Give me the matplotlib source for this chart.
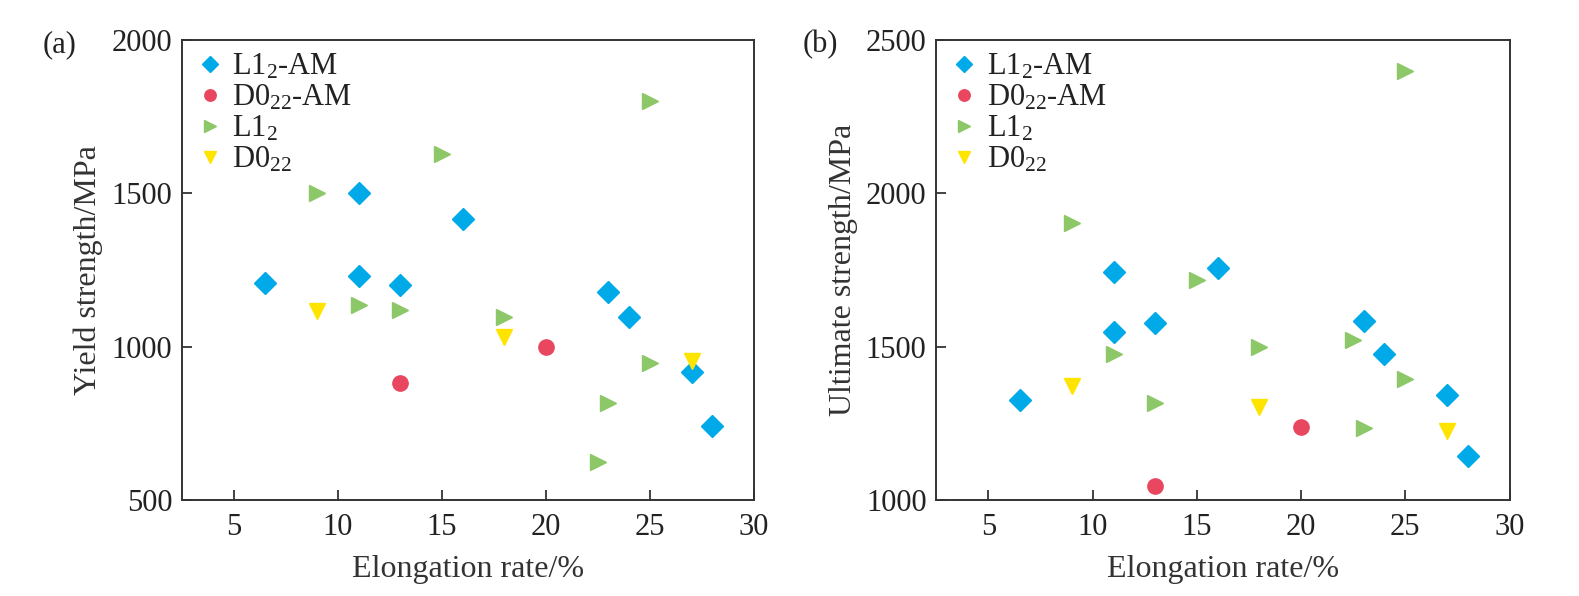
import matplotlib
matplotlib.use("Agg")
import matplotlib.pyplot as plt

plt.rcParams['font.family'] = ['Liberation Serif', 'DejaVu Serif']
plt.rcParams['mathtext.fontset'] = 'custom'
plt.rcParams['mathtext.rm'] = 'Liberation Serif'
plt.rcParams['mathtext.it'] = 'Liberation Serif'

# ---- Data: (a) yield strength ----
ys_l12am_x = [6.5, 11, 11, 13, 16, 23, 24, 27, 28]
ys_l12am_y = [1207, 1500, 1232, 1200, 1415, 1177, 1096, 916, 742]
ys_d022am_x = [13, 20]
ys_d022am_y = [880, 1000]
ys_l12_x = [25, 15, 9, 11, 13, 18, 25, 23, 22.5]
ys_l12_y = [1800, 1627, 1500, 1135, 1120, 1098, 947, 817, 623]
ys_d022_x = [9, 18, 27]
ys_d022_y = [1116, 1031, 953]

# ---- Data: (b) ultimate strength ----
us_l12am_x = [6.5, 11, 11, 13, 16, 23, 24, 27, 28]
us_l12am_y = [1326, 1742, 1549, 1576, 1755, 1584, 1477, 1343, 1143]
us_d022am_x = [13, 20]
us_d022am_y = [1046, 1237]
us_l12_x = [25, 9, 11, 13, 15, 18, 22.5, 23, 25]
us_l12_y = [2400, 1902, 1475, 1317, 1717, 1498, 1522, 1236, 1393]
us_d022_x = [9, 18, 27]
us_d022_y = [1372, 1302, 1225]

labels = ['L1$_{2}$-AM', 'D0$_{22}$-AM', 'L1$_{2}$', 'D0$_{22}$']
xticks = [5, 10, 15, 20, 25, 30]

c_blue = '#00A9E8'
c_red = '#E8475F'
c_green = '#8CC768'
c_yellow = '#FFE400'

fig = plt.figure(figsize=(15.79, 5.96), dpi=100)
ax1 = fig.add_axes([0.1153, 0.161, 0.3622, 0.772])
ax2 = fig.add_axes([0.593, 0.161, 0.363, 0.772])

def draw(ax, d, ylim, yticks, ylabel):
    (ax_l12am_x, ax_l12am_y, ax_d022am_x, ax_d022am_y,
     ax_l12_x, ax_l12_y, ax_d022_x, ax_d022_y) = d
    ax.plot(ax_l12am_x, ax_l12am_y, 'D', color=c_blue, ms=11, ls='none', label=labels[0])
    ax.plot(ax_d022am_x, ax_d022am_y, 'o', color=c_red, ms=11, ls='none', label=labels[1])
    ax.plot(ax_l12_x, ax_l12_y, '>', color=c_green, ms=12, ls='none', label=labels[2])
    ax.plot(ax_d022_x, ax_d022_y, 'v', color=c_yellow, ms=12, ls='none', label=labels[3])
    ax.set_xlim(2.5, 30)
    ax.set_ylim(*ylim)
    ax.set_xticks(xticks)
    ax.set_yticks(yticks)
    ax.tick_params(direction='in', length=7, width=1.2, labelsize=22, colors='#222222',
                   pad=9, top=False, right=False)
    ax.tick_params(axis='y', pad=7)
    for s in ax.spines.values():
        s.set_linewidth(1.4)
        s.set_color('#333333')
    ax.set_xlabel('Elongation rate/%', fontsize=23, color='#333333', labelpad=10)
    ax.set_ylabel(ylabel, fontsize=23, color='#333333', labelpad=6)
    leg = ax.legend(loc='upper left', frameon=False, fontsize=22, handletextpad=0.25,
                    borderaxespad=0.1, labelspacing=0.05, handlelength=1.0,
                    markerscale=0.75, borderpad=0.3)
    for t in leg.get_texts():
        t.set_color('#222222')

draw(ax1, (ys_l12am_x, ys_l12am_y, ys_d022am_x, ys_d022am_y,
           ys_l12_x, ys_l12_y, ys_d022_x, ys_d022_y),
     (500, 2000), [500, 1000, 1500, 2000], 'Yield strength/MPa')
draw(ax2, (us_l12am_x, us_l12am_y, us_d022am_x, us_d022am_y,
           us_l12_x, us_l12_y, us_d022_x, us_d022_y),
     (1000, 2500), [1000, 1500, 2000, 2500], 'Ultimate strength/MPa')

fig.text(0.027, 0.925, '(a)', fontsize=22, color='#222222', va='center')
fig.text(0.508, 0.925, '(b)', fontsize=22, color='#222222', va='center')

fig.savefig('out.png', dpi=100)
